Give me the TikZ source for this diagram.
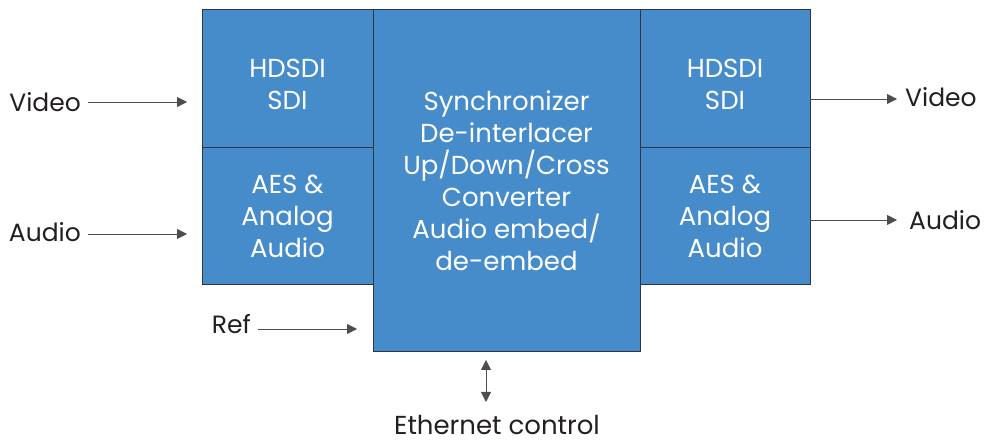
\documentclass[tikz,border=0pt]{standalone}
\usepackage{fontspec}
\setmainfont{Poppins}
\usetikzlibrary{arrows.meta,calc}
\definecolor{boxblue}{HTML}{468CCB}
\definecolor{edge}{HTML}{2F3640}
\definecolor{ink}{HTML}{231F20}
\tikzset{
  blk/.style={draw=edge, line width=1pt, fill=boxblue, text=white, align=center,
    inner sep=0pt, font=\fontsize{26}{32}\selectfont},
  blktext/.style={text=white, align=center, inner sep=0pt, font=\fontsize{26}{32}\selectfont},
  lbl/.style={text=ink, inner sep=0pt, font=\fontsize{25}{32}\selectfont},
  conn/.style={draw=ink!80, line width=0.8pt, -{Triangle[length=10pt,width=10pt]}},
}
\begin{document}
\begin{tikzpicture}[x=1pt,y=1pt]
\useasboundingbox (0,0) rectangle (995,443);
% blocks
\node[blk, minimum width=171pt, minimum height=138pt,
  label={[blktext, yshift=-5pt]center:HDSDI\\SDI}] (lt) at (287.5,364) {};
\node[blk, minimum width=171pt, minimum height=137pt] (lb) at (287.5,226.5) {AES \&\\Analog\\Audio};
\node[blk, minimum width=267pt, minimum height=342pt] (c) at (506.5,262) {Synchronizer\\De-interlacer\\Up/Down/Cross\\Converter\\Audio embed/\\de-embed};
\node[blk, minimum width=170pt, minimum height=138pt,
  label={[blktext, yshift=-5pt]center:HDSDI\\SDI}] (rt) at (725,364) {};
\node[blk, minimum width=170pt, minimum height=137pt] (rb) at (725,226.5) {AES \&\\Analog\\Audio};
% labels
\node[lbl, anchor=east] (vin) at (81,341) {Video};
\node[lbl, anchor=east] (ain) at (81,211) {Audio};
\node[lbl, anchor=east] (ref) at (251,119) {Ref};
\node[lbl, anchor=west] (vout) at (905,346) {Video};
\node[lbl, anchor=west] (aout) at (909,223) {Audio};
\node[lbl, anchor=base, font=\fontsize{26}{32}\selectfont] (eth) at (497,8) {Ethernet control};
% coordinates
\coordinate (vinE) at (187,341);
\coordinate (ainE) at (187,209);
\coordinate (refE) at (357,114);
\coordinate (voutS) at (810,344);
\coordinate (voutE) at (897,344);
\coordinate (aoutS) at (810,223);
\coordinate (aoutE) at (897,223);
\coordinate (ethT) at (486,83);
\coordinate (ethB) at (486,41);
% connectors
\draw[conn] (vin.east) ++(7,0) -- (vinE);
\draw[conn] (ain.east) ++(7,-2) -- (ainE);
\draw[conn] (ref.east) ++(7,-5) -- (refE);
\draw[conn] (voutS) -- (voutE);
\draw[conn] (aoutS) -- (aoutE);
\draw[conn, {Triangle[length=10pt,width=10pt]}-{Triangle[length=10pt,width=10pt]}] (ethT) -- (ethB);
\end{tikzpicture}
\end{document}
